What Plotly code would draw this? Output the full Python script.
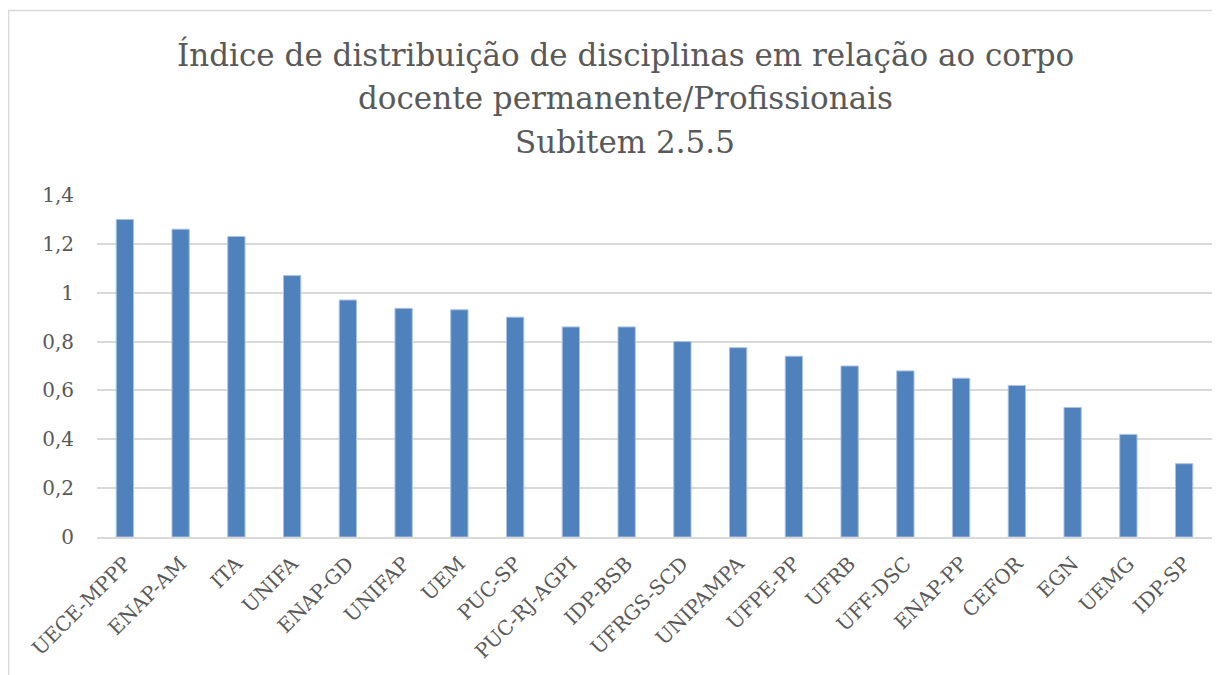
import plotly.graph_objects as go

categories = ["UECE-MPPP", "ENAP-AM", "ITA", "UNIFA", "ENAP-GD", "UNIFAP", "UEM", "PUC-SP",
              "PUC-RJ-AGPI", "IDP-BSB", "UFRGS-SCD", "UNIPAMPA", "UFPE-PP", "UFRB", "UFF-DSC",
              "ENAP-PP", "CEFOR", "EGN", "UEMG", "IDP-SP"]
values = [1.30, 1.26, 1.23, 1.07, 0.97, 0.936, 0.93, 0.90, 0.86, 0.86, 0.80, 0.775,
          0.74, 0.70, 0.68, 0.65, 0.62, 0.53, 0.42, 0.30]
y_ticks = [0, 0.2, 0.4, 0.6, 0.8, 1.0, 1.2, 1.4]

title_lines = ["Índice de distribuição de disciplinas em relação ao corpo",
               "docente permanente/Profissionais",
               "Subitem 2.5.5"]

# page body adds an 8px offset; figure coords = screen coords - 8
OFF = 8
W, H = 1220 - OFF, 675 - OFF
L, R, T, B = 97 - OFF, 8, 195 - OFF, 138
pw, ph = W - L - R, H - T - B

def px_x(p):
    return (p - OFF - L) / pw

def px_y(p):
    return (H - B - (p - OFF)) / ph

fig = go.Figure(go.Bar(
    x=categories, y=values,
    marker=dict(color="#4f81bd", line=dict(color="#a9c2e3", width=1)),
))

font_family = "DejaVu Serif"
title_centers = [55, 98.5, 142]
annotations = [dict(text=t, xref="paper", yref="paper", x=px_x(625), y=px_y(yc),
                    xanchor="center", yanchor="middle", showarrow=False,
                    font=dict(family=font_family, size=31, color="#595959"))
               for t, yc in zip(title_lines, title_centers)]

fig.update_layout(
    width=W, height=H,
    margin=dict(l=L, r=R, t=T, b=B, autoexpand=False),
    paper_bgcolor="white", plot_bgcolor="white",
    separators=",.",
    bargap=0.69,
    showlegend=False,
    font=dict(family=font_family, color="#595959"),
    annotations=annotations,
    shapes=[dict(type="rect", xref="paper", yref="paper",
                 x0=px_x(8.5), x1=px_x(1240), y0=px_y(700), y1=px_y(10.5),
                 line=dict(color="#d9d9d9", width=1.5), fillcolor="rgba(0,0,0,0)", layer="below")],
)
fig.update_xaxes(tickangle=-45, tickfont=dict(size=20, family=font_family, color="#595959"),
                 showline=True, linecolor="#d9d9d9", linewidth=2, showgrid=False,
                 ticks="", ticklabelstandoff=5, ticklabelshift=0)
fig.update_yaxes(range=[0, 1.4], tickvals=y_ticks, showgrid=True, gridcolor="#d9d9d9", gridwidth=1.5,
                 zeroline=False, showline=False, ticks="",
                 tickfont=dict(size=20, family=font_family, color="#595959"),
                 ticklabelstandoff=22)

fig.write_html("out.html")
